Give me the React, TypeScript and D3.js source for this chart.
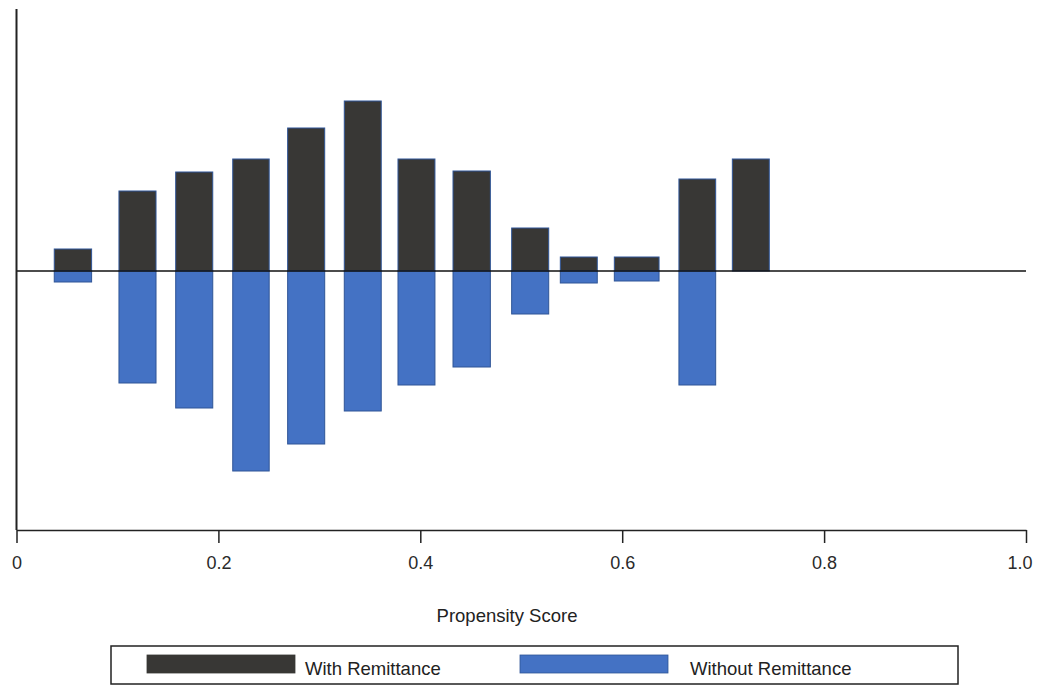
import React, { useEffect, useRef } from 'react';
import * as d3 from 'd3';

// propensity score bins (left / right edge)
const binStart = [0.0374, 0.1015, 0.1577, 0.2142, 0.2686, 0.3247, 0.3779, 0.4324, 0.4905, 0.5387, 0.5922, 0.6562, 0.7091];
const binEnd = [0.0744, 0.1382, 0.1944, 0.2503, 0.3053, 0.3613, 0.4145, 0.4694, 0.5272, 0.5753, 0.6365, 0.6926, 0.7457];
// density, treated group (drawn upwards)
const withRemittance = [0.22, 0.8, 0.99, 1.12, 1.43, 1.7, 1.12, 1.0, 0.43, 0.14, 0.14, 0.92, 1.12];
// density, control group (drawn downwards)
const withoutRemittance = [0.11, 1.12, 1.37, 2.0, 1.73, 1.4, 1.14, 0.96, 0.43, 0.12, 0.1, 1.14, 0];

const xTicks = [0, 0.2, 0.4, 0.6, 0.8, 1.0];
const xTickLabels = ['0', '0.2', '0.4', '0.6', '0.8', '1.0'];
const legendLabels = ['With Remittance', 'Without Remittance'];

const W = 1037, H = 685;
const darkFill = '#383735';
const blueFill = '#4472c4';
const edge = '#2f5597';
const font = 'Liberation Sans, Arial, sans-serif';

export default function App() {
  const ref = useRef<SVGSVGElement>(null);

  useEffect(() => {
    const svg = d3.select(ref.current);
    svg.selectAll('*').remove();

    const x = d3.scaleLinear().domain([0, 1]).range([16.5, 1026]);
    const y = d3.scaleLinear().domain([-2.59, 2.62]).range([530, 9]);

    const idx = d3.range(binStart.length);

    svg.append('g')
      .selectAll('rect')
      .data(idx)
      .join('rect')
      .attr('x', i => x(binStart[i]))
      .attr('width', i => x(binEnd[i]) - x(binStart[i]))
      .attr('y', i => y(withRemittance[i]))
      .attr('height', i => y(0) - y(withRemittance[i]))
      .attr('fill', darkFill)
      .attr('stroke', edge)
      .attr('stroke-width', 1);

    svg.append('g')
      .selectAll('rect')
      .data(idx.filter(i => withoutRemittance[i] > 0))
      .join('rect')
      .attr('x', i => x(binStart[i]))
      .attr('width', i => x(binEnd[i]) - x(binStart[i]))
      .attr('y', y(0))
      .attr('height', i => y(-withoutRemittance[i]) - y(0))
      .attr('fill', blueFill)
      .attr('stroke', edge)
      .attr('stroke-width', 1);

    // zero line
    svg.append('line')
      .attr('x1', x(0)).attr('x2', x(1))
      .attr('y1', y(0)).attr('y2', y(0))
      .attr('stroke', '#111').attr('stroke-width', 1.5);

    // y axis line
    svg.append('line')
      .attr('x1', x(0)).attr('x2', x(0))
      .attr('y1', y.range()[1]).attr('y2', y.range()[0])
      .attr('stroke', '#222').attr('stroke-width', 2);

    // x axis
    const xAxis = svg.append('g')
      .attr('transform', `translate(0,${y.range()[0]})`)
      .call(d3.axisBottom(x).tickValues(xTicks).tickSize(13).tickSizeOuter(0)
        .tickFormat((d, i) => xTickLabels[i]));
    xAxis.select('.domain').attr('stroke', '#222').attr('stroke-width', 1.5);
    xAxis.selectAll('.tick line').attr('stroke', '#222').attr('stroke-width', 1.5);
    xAxis.selectAll('.tick text')
      .attr('dy', 0).attr('y', 39)
      .style('font-size', '18px').style('font-family', font).attr('fill', '#2a2a2a');
    // last label sits against the page edge
    xAxis.selectAll('.tick text')
      .filter((d: any) => d === 1)
      .attr('text-anchor', 'end').attr('x', 6);

    svg.append('text')
      .attr('x', 507).attr('y', 622)
      .attr('text-anchor', 'middle')
      .style('font-family', font).style('font-size', '18.5px').attr('fill', '#222')
      .text('Propensity Score');

    // legend
    const lg = svg.append('g');
    lg.append('rect')
      .attr('x', 111).attr('y', 646).attr('width', 847).attr('height', 38)
      .attr('fill', '#fff').attr('stroke', '#222').attr('stroke-width', 1.5);
    const items = [
      { sx: 147, tx: 305, fill: darkFill },
      { sx: 520, tx: 690, fill: blueFill },
    ];
    items.forEach((it, i) => {
      lg.append('rect')
        .attr('x', it.sx).attr('y', 655).attr('width', 148).attr('height', 18)
        .attr('fill', it.fill).attr('stroke', i === 0 ? darkFill : edge).attr('stroke-width', 0.8);
      lg.append('text')
        .attr('x', it.tx).attr('y', 675)
        .style('font-family', font).style('font-size', '18.5px').attr('fill', '#222')
        .text(legendLabels[i]);
    });
  }, []);

  return (
    <svg ref={ref} width={W} height={H} style={{ position: 'absolute', left: 0, top: 0, background: '#fff' }} />
  );
}
